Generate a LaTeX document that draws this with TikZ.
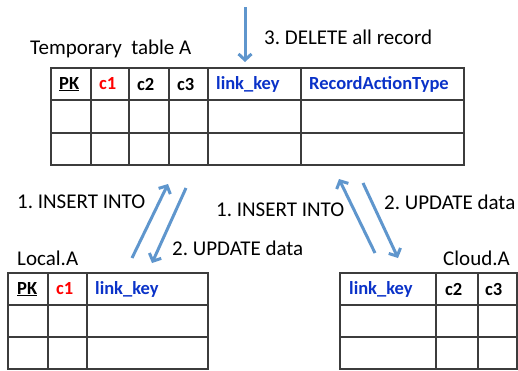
\documentclass[tikz,border=0pt]{standalone}
\usepackage{fontspec}
\setmainfont{Carlito}
\frenchspacing
\usetikzlibrary{arrows.meta}
\definecolor{hdrblue}{RGB}{10,50,200}
\definecolor{flowblue}{RGB}{95,150,205}
\definecolor{gridgray}{RGB}{60,60,60}
\tikzset{
  grid/.style={draw=gridgray, line width=1.3pt},
  lbl/.style={anchor=west, inner sep=0pt, font=\fontsize{21}{25}\selectfont},
  hdr/.style={anchor=west, inner sep=0pt, font=\fontsize{18.5}{22}\selectfont\bfseries},
  flow/.style={flowblue, line width=3pt, -{Straight Barb[length=6pt,width=13pt]}},
}
\begin{document}
\begin{tikzpicture}[x=1pt,y=-1pt]
\useasboundingbox (0,0) rectangle (518,370);

% temporary table A
\draw[grid] (51,68) rectangle (464,165);
\foreach \y in {100,133} \draw[grid] (51,\y) -- (464,\y);
\foreach \x in {91,129,169,208,301} \draw[grid] (\x,68) -- (\x,165);
\node[lbl] (ttitle) at (30,49) {Temporary\ \ table A};
\node[hdr] (tpk) at (59,84) {\underline{PK}};
\node[hdr, text=red] (tc1) at (99,84) {c1};
\node[hdr] (tc2) at (137,84) {c2};
\node[hdr] (tc3) at (177,84) {c3};
\node[hdr, text=hdrblue] (tlink) at (216,84) {link\_key};
\node[hdr, text=hdrblue] (trat) at (309,84) {RecordActionType};

% local table
\draw[grid] (8,273) rectangle (208,369);
\foreach \y in {305,337} \draw[grid] (8,\y) -- (208,\y);
\foreach \x in {48,87} \draw[grid] (\x,273) -- (\x,369);
\node[lbl] (ltitle) at (17,258) {Local.A};
\node[hdr] (lpk) at (17,289) {\underline{PK}};
\node[hdr, text=red] (lc1) at (56,289) {c1};
\node[hdr, text=hdrblue] (llink) at (95,289) {link\_key};

% cloud table
\draw[grid] (340,273) rectangle (517,369);
\foreach \y in {305,337} \draw[grid] (340,\y) -- (517,\y);
\foreach \x in {436,478} \draw[grid] (\x,273) -- (\x,369);
\node[lbl] (ctitle) at (443,258) {Cloud.A};
\node[hdr, text=hdrblue] (clink) at (349,289) {link\_key};
\node[hdr] (cc2) at (445,289) {c2};
\node[hdr] (cc3) at (485,289) {c3};

% flow arrows
\coordinate (d0) at (245,7);   \coordinate (d1) at (245,62);
\coordinate (la0) at (132,258); \coordinate (la1) at (168,184);
\coordinate (lb0) at (186,188); \coordinate (lb1) at (152,263);
\coordinate (ra0) at (375,253); \coordinate (ra1) at (339,179);
\coordinate (rb0) at (363,183); \coordinate (rb1) at (398,258);
\draw[flow] (d0) -- (d1);
\draw[flow] (la0) -- (la1);
\draw[flow] (lb0) -- (lb1);
\draw[flow] (ra0) -- (ra1);
\draw[flow] (rb0) -- (rb1);

% step labels
\node[lbl] (sdel) at (264,37) {3. DELETE all record};
\node[lbl] (sins1) at (17,202) {1. INSERT INTO};
\node[lbl] (supd1) at (172,248) {2. UPDATE data};
\node[lbl] (sins2) at (216,210) {1. INSERT INTO};
\node[lbl] (supd2) at (384,202) {2. UPDATE data};
\end{tikzpicture}
\end{document}
